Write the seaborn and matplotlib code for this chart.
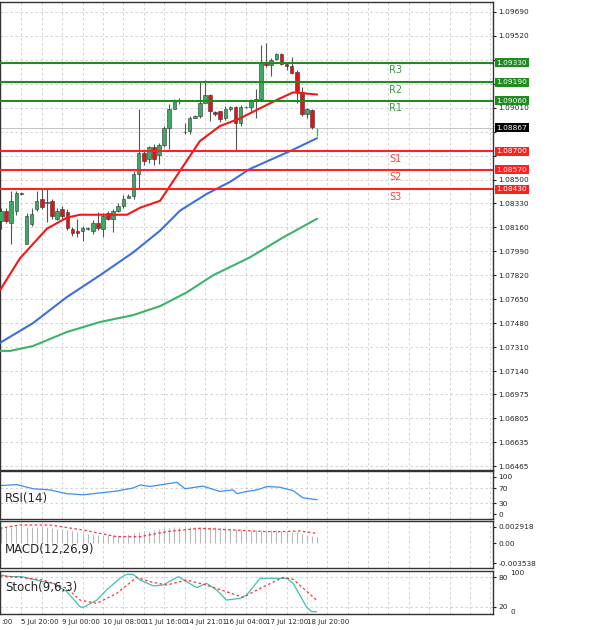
import numpy as np
import pandas as pd
import matplotlib
matplotlib.use("Agg")
import matplotlib.pyplot as plt
import seaborn as sns

# ---------------- data ----------------
opens = [1.08208,1.08279,1.08194,1.08279,1.08398,1.08045,1.08187,1.08293,1.08363,1.08335,
         1.08349,1.08222,1.08293,1.08271,1.08151,1.08137,1.08137,1.08151,1.08137,1.08194,
         1.08151,1.08264,1.08222,1.08279,1.08314,1.08370,1.08384,1.08540,1.08688,1.08646,
         1.08730,1.08674,1.08744,1.08864,1.08999,1.09062,1.08836,1.08843,1.08935,1.08949,
         1.09041,1.09104,1.08977,1.08985,1.08935,1.08999,1.09013,1.08900,1.09013,1.09013,
         1.09055,1.09069,1.09337,1.09316,1.09359,1.09394,1.09323,1.09309,1.09267,1.09119,
         1.08963,1.08992]
closes = [1.08279,1.08208,1.08349,1.08405,1.08405,1.08243,1.08257,1.08349,1.08307,1.08340,
          1.08243,1.08279,1.08243,1.08159,1.08123,1.08123,1.08159,1.08155,1.08194,1.08159,
          1.08243,1.08222,1.08279,1.08314,1.08363,1.08384,1.08540,1.08688,1.08631,1.08730,
          1.08646,1.08744,1.08864,1.08999,1.09055,1.09066,1.08840,1.08935,1.08949,1.09041,
          1.09104,1.08985,1.08963,1.08928,1.08999,1.09013,1.08900,1.09013,1.09017,1.09055,
          1.09069,1.09337,1.09316,1.09352,1.09394,1.09323,1.09309,1.09260,1.09126,1.08963,
          1.08999,1.08871]
highs = [1.08300,1.08300,1.08420,1.08420,1.08415,1.08260,1.08300,1.08420,1.08430,1.08440,
         1.08360,1.08300,1.08310,1.08290,1.08165,1.08220,1.08170,1.08165,1.08210,1.08270,
         1.08260,1.08280,1.08290,1.08330,1.08390,1.08400,1.08560,1.08999,1.08700,1.08740,
         1.08750,1.08760,1.08880,1.09040,1.09070,1.09080,1.08900,1.08950,1.08960,1.09196,
         1.09210,1.09110,1.08990,1.08990,1.09020,1.09020,1.09020,1.09030,1.09025,1.09070,
         1.09140,1.09457,1.09472,1.09360,1.09400,1.09400,1.09330,1.09373,1.09280,1.09154,
         1.09010,1.08999]
lows = [1.08150,1.08190,1.08040,1.08250,1.08390,1.08040,1.08170,1.08280,1.08290,1.08200,
        1.08220,1.08210,1.08220,1.08140,1.08100,1.08090,1.08060,1.08140,1.08110,1.08140,
        1.08090,1.08210,1.08130,1.08270,1.08300,1.08370,1.08360,1.08441,1.08600,1.08620,
        1.08600,1.08610,1.08730,1.08720,1.09040,1.09040,1.08820,1.08820,1.08935,1.08940,
        1.09060,1.08914,1.08950,1.08910,1.08920,1.08990,1.08702,1.08880,1.09005,1.08990,
        1.08935,1.09060,1.09300,1.09232,1.09350,1.09310,1.09280,1.09250,1.09041,1.08950,
        1.08940,1.08860]

ma_red_x = [-0.2,3.7,9.0,12.9,15.5,24.7,27.3,31.2,35.1,39.0,42.9,46.9,50.8,54.7,57.3,62.0]
ma_red_y = [1.07714,1.07940,1.08151,1.08229,1.08250,1.08250,1.08300,1.08349,1.08561,1.08773,
            1.08879,1.08935,1.09006,1.09076,1.09119,1.09104]
ma_blue_x = [-0.2,6.3,12.9,19.4,25.9,31.2,35.1,40.4,44.9,48.8,56.7,62.0]
ma_blue_y = [1.07340,1.07481,1.07665,1.07820,1.07982,1.08137,1.08279,1.08399,1.08483,1.08575,
             1.08702,1.08794]
ma_green_x = [-0.2,1.8,6.3,12.9,19.4,25.9,31.2,36.5,41.6,48.8,55.3,62.0]
ma_green_y = [1.07283,1.07283,1.07318,1.07417,1.07488,1.07537,1.07601,1.07700,1.07820,1.07947,
              1.08088,1.08222]

resist_levels = [1.09330, 1.09190, 1.09060]
resist_names = ["R3", "R2", "R1"]
support_levels = [1.08700, 1.08570, 1.08430]
support_names = ["S1", "S2", "S3"]
last_price = 1.08867

price_ticks = [1.09690,1.09520,1.09350,1.09180,1.09010,1.08840,1.08670,1.08500,1.08330,1.08160,
               1.07990,1.07820,1.07650,1.07480,1.07310,1.07140,1.06975,1.06805,1.06635,1.06465]
hidden_ticks = [1.09350, 1.09180, 1.08840, 1.08670]

rsi_x = [-0.2,3.1,6.3,9.6,12.9,16.1,19.4,22.7,25.9,27.3,29.2,34.5,36.1,39.6,42.9,45.5,46.3,48.2,
         50.2,52.2,54.7,57.3,59.2,62.0]
rsi_y = [76.5,79,68,65,55,52,57,62,70,78,74,85,68,75,61,65,55,61,65,74,72,63,44,39]

macd_hist = [0.00290,0.00292,0.00295,0.00296,0.00296,0.00295,0.00294,0.00292,0.00288,0.00280,
             0.00270,0.00258,0.00245,0.00230,0.00215,0.00200,0.00185,0.00170,0.00160,0.00152,
             0.00148,0.00145,0.00143,0.00145,0.00150,0.00160,0.00175,0.00195,0.00210,0.00225,
             0.00238,0.00250,0.00262,0.00275,0.00285,0.00292,0.00290,0.00290,0.00292,0.00294,
             0.00294,0.00290,0.00282,0.00274,0.00268,0.00262,0.00250,0.00245,0.00238,0.00232,
             0.00228,0.00235,0.00238,0.00235,0.00230,0.00222,0.00215,0.00205,0.00190,0.00168,
             0.00150,0.00130,0.00118]
macd_sig_x = [-0.2,3.7,9.6,16.1,22.7,27.3,32.5,39.0,45.6,52.1,55.4,58.6,61.9]
macd_sig_y = [0.00264,0.00322,0.00322,0.00234,0.00117,0.00117,0.00205,0.00264,0.00234,0.00205,
              0.00205,0.00217,0.00176]

stoch_x = [-0.2,1.8,4.1,6.3,8.3,10.3,12.9,15.5,16.1,18.8,20.7,23.3,24.6,25.9,27.3,29.9,31.8,
           34.8,36.4,38.4,40.3,42.3,44.2,46.9,48.2,50.8,52.1,56.0,57.3,59.9,60.9,61.9]
stoch_y = [84.8,81.4,81.4,75.9,71.1,67.7,50.7,20,18.6,33.6,54.1,78,86.1,86.1,74.5,62.3,64.3,
           81.4,71.1,58.9,67.7,54.1,33.6,37,43.9,78,78,78,67.7,20,9.8,9.8]
stoch_sig_x = [-0.2,3.7,8.3,12.9,15.5,18.8,22.7,26.6,29.2,32.5,36.4,40.3,44.2,47.5,50.8,55.4,57.3,61.9]
stoch_sig_y = [82.7,80,74.5,57.5,33.6,26.8,47.3,80,71.1,64.3,74.5,64.3,50.7,39.1,57.5,80,75.9,33.6]

date_labels = [":00","5 Jul 20:00","9 Jul 00:00","10 Jul 08:00","11 Jul 16:00",
               "14 Jul 21:01","16 Jul 04:00","17 Jul 12:00","18 Jul 20:00"]

# ---------------- figure ----------------
sns.set_style("white")
W, H = 600, 630
fig = plt.figure(figsize=(6, 6.3), dpi=100)
fig.patch.set_facecolor("white")

def rect(x0, y0, x1, y1):
    return [x0 / W, 1 - y1 / H, (x1 - x0) / W, (y1 - y0) / H]

XL = (-0.2, 96.5)
ax = fig.add_axes(rect(0, 2, 493, 470))
ax_rsi = fig.add_axes(rect(0, 471, 493, 519))
ax_macd = fig.add_axes(rect(0, 521, 493, 568))
ax_st = fig.add_axes(rect(0, 571, 493, 614))

grid_x = np.arange(4, 97, 4)
gkw = dict(color="#cccccc", lw=0.6, ls=(0, (3, 3)), zorder=0)
for a in (ax, ax_rsi, ax_macd, ax_st):
    for gx in grid_x:
        a.axvline(gx, **gkw)
    for s in a.spines.values():
        s.set_color("#333333"); s.set_linewidth(1.0)
    a.yaxis.tick_right()
    a.tick_params(axis="y", labelsize=5.3, length=2, pad=2, colors="#222222")

# main candles
idx = np.arange(len(opens))
df = pd.DataFrame({"i": idx, "o": opens, "c": closes, "h": highs, "l": lows})
up = df.c >= df.o
ax.vlines(df.i, df.l, df.h, color="#555555", lw=0.8, zorder=3)
ax.bar(df.i[up], (df.c - df.o)[up], bottom=df.o[up], width=0.7, color="#3aaa64",
       edgecolor="#333333", lw=0.4, zorder=4)
ax.bar(df.i[~up], (df.o - df.c)[~up], bottom=df.c[~up], width=0.7, color="#e81010",
       edgecolor="#333333", lw=0.4, zorder=4)

sns.lineplot(x=ma_red_x, y=ma_red_y, ax=ax, color="#f01818", lw=1.5, zorder=5)
sns.lineplot(x=ma_blue_x, y=ma_blue_y, ax=ax, color="#3f6ee0", lw=1.5, zorder=5)
sns.lineplot(x=ma_green_x, y=ma_green_y, ax=ax, color="#3cb36a", lw=1.5, zorder=5)

ax.set_ylim(1.06437, 1.09761)
ax.set_yticks(price_ticks)
ax.set_yticklabels(["" if t in hidden_ticks else f"{t:.5f}" for t in price_ticks])
for t in price_ticks:
    ax.axhline(t, **gkw)
ax.axhline(last_price, color="#bbbbbb", lw=0.6, zorder=1)

def box(lv, fc):
    ax.annotate(f"{lv:.5f}", xy=(1.0, lv), xycoords=("axes fraction", "data"),
                xytext=(2.5, 0), textcoords="offset points", fontsize=5.3, color="white",
                va="center", ha="left", annotation_clip=False,
                bbox=dict(boxstyle="square,pad=0.2", fc=fc, ec="none"))

for lv, nm in zip(resist_levels, resist_names):
    ax.axhline(lv, color="#1e8c1e", lw=1.5, zorder=6)
    ax.text(77.4, lv - 0.00055, nm, color="#3a9a3a", fontsize=7, ha="center", va="center")
    box(lv, "#1e8c1e")
for lv, nm in zip(support_levels, support_names):
    ax.axhline(lv, color="#ff2020", lw=1.5, zorder=6)
    ax.text(77.4, lv - 0.00055, nm, color="#ff4040", fontsize=7, ha="center", va="center")
    box(lv, "#ff2020")
box(last_price, "black")
ax.plot([62], [last_price - 0.0003], marker="|", color="#22cc22", ms=6)

# RSI
ax_rsi.set_ylim(-12, 115)
ax_rsi.set_yticks([100, 70, 30, 0])
for v in (70, 30):
    ax_rsi.axhline(v, **gkw)
sns.lineplot(x=rsi_x, y=rsi_y, ax=ax_rsi, color="#3b8ff0", lw=0.9)
ax_rsi.text(0.01, 0.43, "RSI(14)", transform=ax_rsi.transAxes, fontsize=8.5, va="center")

# MACD
ax_macd.set_ylim(-0.00434, 0.00392)
ax_macd.set_yticks([0.002918, 0.0, -0.003538])
ax_macd.set_yticklabels(["0.002918", "0.00", "-0.003538"])
ax_macd.vlines(np.arange(len(macd_hist)), 0, macd_hist, color="#b8b8b8", lw=0.8, zorder=2)
sns.lineplot(x=macd_sig_x, y=macd_sig_y, ax=ax_macd, color="#ff3030", lw=0.9,
             linestyle=(0, (2, 2)))
ax_macd.text(0.01, 0.40, "MACD(12,26,9)", transform=ax_macd.transAxes, fontsize=8.5,
             va="center")

# Stochastic
ax_st.set_ylim(5.1, 92.9)
ax_st.set_yticks([80, 20])
ax_st.set_yticklabels(["80", "20"])
for v in (80, 20):
    ax_st.axhline(v, **gkw)
ax_st.text(1.035, 88, "100", transform=ax_st.get_yaxis_transform(), fontsize=5.3, va="center")
ax_st.text(1.035, 10, "0", transform=ax_st.get_yaxis_transform(), fontsize=5.3, va="center")
sns.lineplot(x=stoch_x, y=stoch_y, ax=ax_st, color="#40c0b0", lw=0.9)
sns.lineplot(x=stoch_sig_x, y=stoch_sig_y, ax=ax_st, color="#ff3030", lw=0.9,
             linestyle=(0, (2, 2)))
ax_st.text(0.01, 0.62, "Stoch(9,6,3)", transform=ax_st.transAxes, fontsize=8.5, va="center")

for a in (ax, ax_rsi, ax_macd, ax_st):
    a.set_xlim(*XL)
    a.set_xticks([])
    a.set_xlabel(""); a.set_ylabel("")

# date labels
for k, lab in enumerate(date_labels):
    xi = -4 + 8 * k
    xpix = 1 + 5.1 * xi
    if k == 0:
        fig.text(1 / W, 1 - 622 / H, lab, fontsize=5, ha="left", va="center")
    else:
        fig.text(xpix / W, 1 - 622 / H, lab, fontsize=5, ha="left", va="center")

fig.savefig("out.png", dpi=100)
